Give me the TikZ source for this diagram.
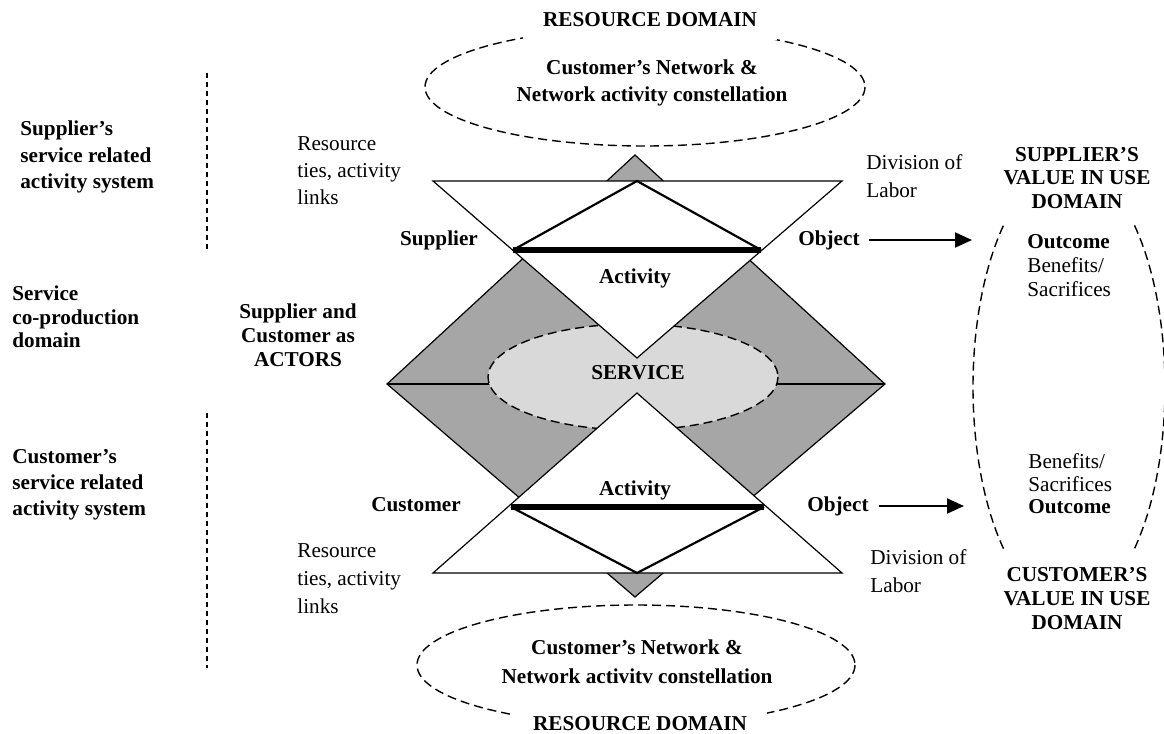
\documentclass[tikz,border=0pt]{standalone}
\usepackage{fontspec}
\setmainfont{Liberation Serif}
\usetikzlibrary{arrows.meta}
\definecolor{dgray}{RGB}{166,166,166}
\definecolor{lgray}{RGB}{217,217,217}
\begin{document}
\begin{tikzpicture}[x=0.5pt,y=-0.5pt,
  reg/.style={inner sep=0pt, font=\fontsize{10.6}{#1}\selectfont},
  reg/.default=13,
  bld/.style={inner sep=0pt, font=\fontsize{10.6}{#1}\selectfont\bfseries},
  bld/.default=13,
  dsh/.style={dash pattern=on 4.5pt off 2.5pt, line width=0.7pt},
  vdsh/.style={dash pattern=on 2.5pt off 2pt, line width=0.7pt},
  outl/.style={line width=0.6pt, line join=miter},
  innerln/.style={line width=1.1pt, line join=miter},
  heavy/.style={line width=2.6pt},
  arr/.style={line width=1pt, -{Triangle[length=8.5pt,width=7.5pt]}}
]
\useasboundingbox (0,0) rectangle (1164,734);

% resource domain ellipses
\draw[dsh] (645,87) ellipse [x radius=220, y radius=59];
\node[bld, fill=white, inner xsep=10pt, inner ysep=6.5pt] (rdtop) at (650,20) {RESOURCE DOMAIN};
\draw[dsh] (636,665) ellipse [x radius=219, y radius=60];
\node[bld, fill=white, inner xsep=10pt, inner ysep=5pt] (rdbot) at (640,724) {RESOURCE DOMAIN};

% value in use ellipse (two arcs)
\draw[dsh] (1069,387) ++(133:96 and 221) arc[start angle=133, end angle=227, x radius=96, y radius=221];
\draw[dsh] (1069,387) ++(-47:96 and 221) arc[start angle=-47, end angle=47, x radius=96, y radius=221];

% vertical separators
\draw[vdsh] (207,73) -- (207,250);
\draw[vdsh] (207,413) -- (207,668);

% big grey diamond
\coordinate (T) at (635,155);
\coordinate (L) at (387,384);
\coordinate (R) at (885,384);
\coordinate (B) at (635,597);
\filldraw[outl, fill=dgray] (T) -- (R) -- (B) -- (L) -- cycle;
\draw[outl] (L) -- (R);

% service ellipse
\filldraw[dsh, fill=lgray] (633,377) ellipse [x radius=145, y radius=53];

% activity triangles
\filldraw[outl, fill=white] (433,181) -- (842,181) -- (637,358) -- cycle;
\filldraw[outl, fill=white] (433,573) -- (842,573) -- (637,393) -- cycle;
\draw[innerln] (513,250) -- (637,181) -- (761,250);
\draw[heavy] (513,250) -- (761,250);
\draw[innerln] (511,507) -- (637,573) -- (764,507);
\draw[heavy] (511,507) -- (764,507);

% left column
\node[bld=13.25, align=left, anchor=west] (supsys) at (20,157) {Supplier's\\service related\\activity system};
\node[bld=11.75, align=left, anchor=west] (copro) at (12,317) {Service\\co-production\\domain};
\node[bld=13, align=left, anchor=west] (cussys) at (12,485) {Customer's\\service related\\activity system};
\node[bld=12, align=center] (actors) at (298,335) {Supplier and\\Customer as\\ACTORS};
\node[reg=13.5, align=left, anchor=west] (res1) at (297,171) {Resource\\ties, activity\\links};
\node[reg=14, align=left, anchor=west] (res2) at (297,579) {Resource\\ties, activity\\links};

% central labels
\node[bld] (supplier) at (439,240) {Supplier};
\node[bld] (customer) at (416,505) {Customer};
\node[bld] (act1) at (635,278) {Activity};
\node[bld] (act2) at (635,490) {Activity};
\node[bld] (service) at (638,373) {SERVICE};
\node[bld] (obj1) at (829,240) {Object};
\node[bld] (obj2) at (838,506) {Object};
\node[bld=13.5, align=center] (net1) at (652,83) {Customer's Network \&\\Network activity constellation};
\node[bld=14.5, align=center] (net2) at (637,662) {Customer's Network \&\\Network activitv constellation};

% right column
\node[reg=14, align=left, anchor=west] (div1) at (866,176) {Division of\\Labor};
\node[reg=14, align=left, anchor=west] (div2) at (870,571) {Division of\\Labor};
\node[bld=11.75, align=center] (supval) at (1077,178) {SUPPLIER'S\\VALUE IN USE\\DOMAIN};
\node[reg=12, align=left, anchor=west] (out1) at (1027,266) {\textbf{Outcome}\\Benefits/\\Sacrifices};
\node[reg=11.25, align=left, anchor=west] (out2) at (1028,484) {Benefits/\\Sacrifices\\\textbf{Outcome}};
\node[bld=12, align=center] (cusval) at (1077,599) {CUSTOMER'S\\VALUE IN USE\\DOMAIN};

% arrows
\coordinate (a1) at (972,240);
\coordinate (a2) at (964,506);
\draw[arr, shorten <=4.5pt] (obj1) -- (a1);
\draw[arr, shorten <=5pt] (obj2) -- (a2);
\end{tikzpicture}
\end{document}
